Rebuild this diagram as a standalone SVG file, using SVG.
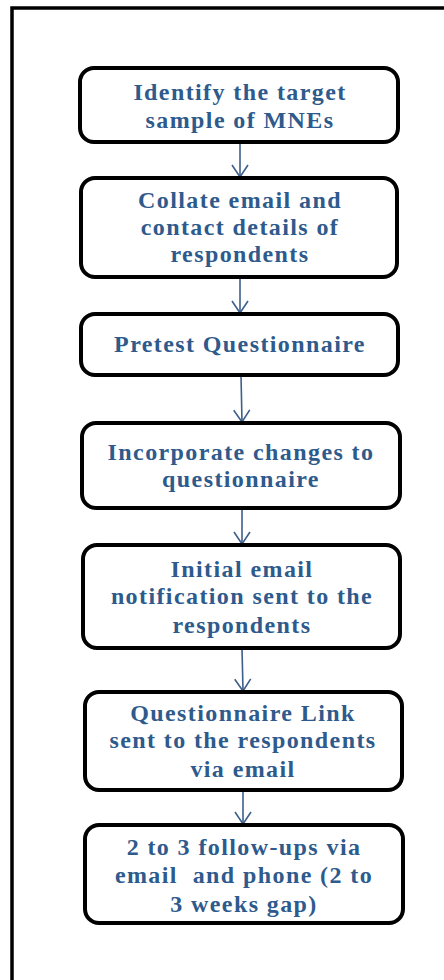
<svg xmlns="http://www.w3.org/2000/svg" width="444" height="980" viewBox="0 0 444 980">
  <style>
    .frame { fill: none; stroke: #000; stroke-width: 3.5; }
    .box { fill: #fff; stroke: #000; stroke-width: 4; }
    .label { font-family: "Liberation Serif", "Times New Roman", serif; font-weight: bold; font-size: 24px; letter-spacing: 1.4px; fill: #2E5A8C; text-anchor: middle; white-space: pre; }
    .link { stroke: #3D5F8A; stroke-width: 1.6; fill: none; }
  </style>
  <defs>
    <!-- open V head; drawn along +x so orient="auto" turns it along the line -->
    <marker id="vee" viewBox="0 0 14 18" refX="13" refY="9" markerWidth="14" markerHeight="18" markerUnits="userSpaceOnUse" orient="auto">
      <path d="M1,1 L13,9 L1,17" fill="none" stroke="#3D5F8A" stroke-width="1.6"/>
    </marker>
  </defs>

  <rect class="frame" x="12" y="8" width="460" height="1000"/>

  <g id="connectors">
    <line class="link" x1="240" y1="142" x2="240" y2="177" marker-end="url(#vee)"/>
    <line class="link" x1="240" y1="277" x2="240" y2="313" marker-end="url(#vee)"/>
    <line class="link" x1="241" y1="375" x2="242" y2="422" marker-end="url(#vee)"/>
    <line class="link" x1="242" y1="508" x2="242" y2="544" marker-end="url(#vee)"/>
    <line class="link" x1="242" y1="648" x2="243" y2="691" marker-end="url(#vee)"/>
    <line class="link" x1="243" y1="790" x2="243" y2="824" marker-end="url(#vee)"/>
  </g>

  <g id="identify">
    <rect class="box" x="80" y="68" width="318" height="74" rx="14"/>
    <text class="label" x="240" y="100">Identify the target</text>
    <text class="label" x="240" y="128">sample of MNEs</text>
  </g>

  <g id="collate">
    <rect class="box" x="81" y="178" width="316" height="99" rx="14"/>
    <text class="label" x="240" y="208">Collate email and</text>
    <text class="label" x="240" y="235">contact details of</text>
    <text class="label" x="240" y="262">respondents</text>
  </g>

  <g id="pretest">
    <rect class="box" x="81" y="314" width="317" height="61" rx="14"/>
    <text class="label" x="240" y="352">Pretest Questionnaire</text>
  </g>

  <g id="incorporate">
    <rect class="box" x="82" y="423" width="318" height="85" rx="14"/>
    <text class="label" x="241" y="460">Incorporate changes to</text>
    <text class="label" x="241" y="487">questionnaire</text>
  </g>

  <g id="notify">
    <rect class="box" x="83" y="545" width="317" height="103" rx="14"/>
    <text class="label" x="242" y="577">Initial email</text>
    <text class="label" x="242" y="604">notification sent to the</text>
    <text class="label" x="242" y="633">respondents</text>
  </g>

  <g id="link-sent">
    <rect class="box" x="85" y="692" width="317" height="98" rx="14"/>
    <text class="label" x="243" y="721">Questionnaire Link</text>
    <text class="label" x="243" y="748">sent to the respondents</text>
    <text class="label" x="243" y="777">via email</text>
  </g>

  <g id="follow-ups">
    <rect class="box" x="85" y="825" width="318" height="98" rx="14"/>
    <text class="label" x="244" y="855">2 to 3 follow-ups via</text>
    <text class="label" x="244" y="883">email  and phone (2 to</text>
    <text class="label" x="244" y="912">3 weeks gap)</text>
  </g>
</svg>
